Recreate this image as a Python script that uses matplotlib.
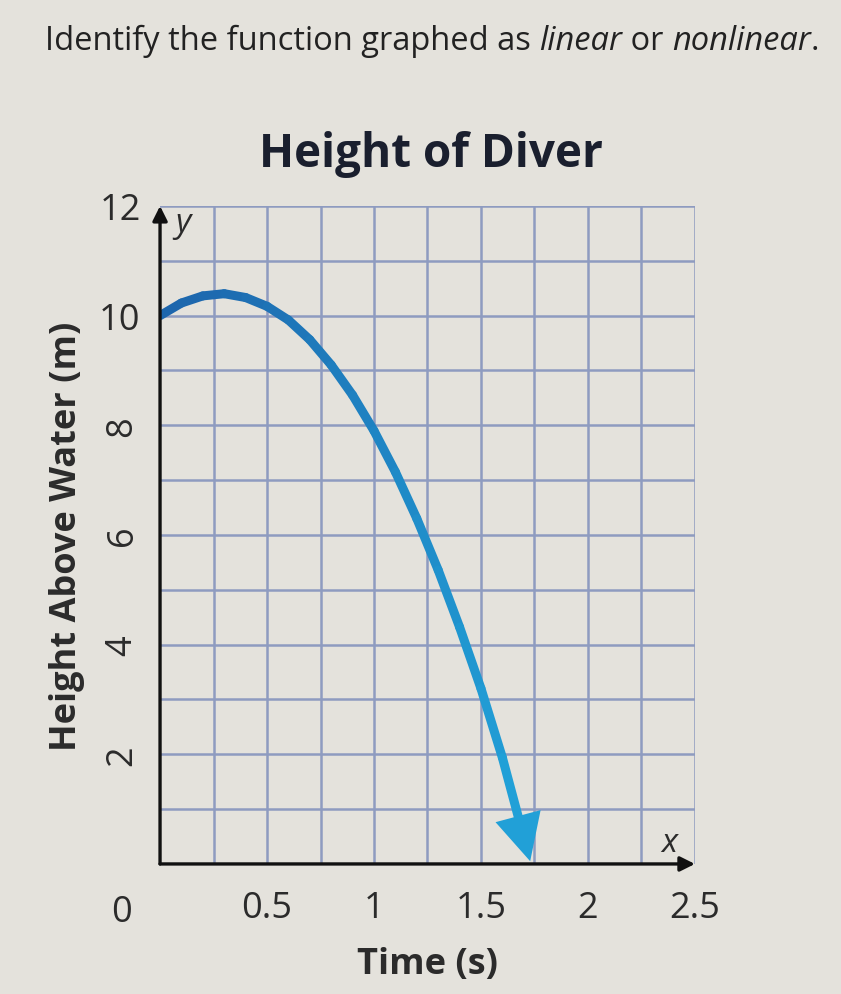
import matplotlib
matplotlib.use("Agg")
import matplotlib.pyplot as plt
import numpy as np
from matplotlib.collections import LineCollection
from matplotlib.colors import to_rgb

# Height of the diver (time in s, height in m)
time_s = [0.0, 0.1, 0.2, 0.3, 0.4, 0.5, 0.6, 0.7, 0.8, 0.9,
          1.0, 1.1, 1.2, 1.3, 1.4, 1.5, 1.6, 1.73]
height_m = [10.0, 10.23, 10.36, 10.40, 10.33, 10.17, 9.92, 9.56, 9.10, 8.55,
            7.90, 7.15, 6.30, 5.36, 4.32, 3.20, 1.94, 0.05]

x_ticks = [0.5, 1, 1.5, 2, 2.5]
x_tick_labels = ["0.5", "1", "1.5", "2", "2.5"]
y_ticks = [2, 4, 6, 8, 10, 12]
y_tick_labels = ["2", "4", "6", "8", "10", "12"]

BG = "#e4e2dc"
GRID = "#8e9bc0"
TEXT = "#2b2b2b"
CURVE_TOP = "#1d66ad"
CURVE_BOT = "#21a0d7"

plt.rcParams["font.family"] = ["Open Sans", "DejaVu Sans"]

fig = plt.figure(figsize=(8.41, 9.95), dpi=100, facecolor=BG)
ax = fig.add_axes([0.1903, 0.1307, 0.636, 0.6613])
ax.set_facecolor(BG)

ax.set_xlim(0, 2.5)
ax.set_ylim(0, 12)

# grid every 0.25 s and every 1 m
for gx in np.arange(0.25, 2.51, 0.25):
    ax.axvline(gx, color=GRID, lw=1.8, zorder=1)
for gy in np.arange(1, 12.1, 1):
    ax.axhline(gy, color=GRID, lw=1.8, zorder=1)
ax.tick_params(which="both", length=0)

ax.set_xticks(x_ticks)
ax.set_xticklabels(x_tick_labels, fontsize=26, color=TEXT)
ax.set_yticks(y_ticks)
ax.set_yticklabels(y_tick_labels, fontsize=26, color=TEXT)
ax.tick_params(axis="x", pad=19)
ax.tick_params(axis="y", pad=14)
for lbl, v in zip(ax.get_yticklabels(), y_ticks):
    if v < 10:
        lbl.set_rotation(90)
        lbl.set_va("center")
ax.text(-0.18, -0.55, "0", fontsize=26, color=TEXT, ha="center", va="top")

for s in ax.spines.values():
    s.set_visible(False)

# axes with arrowheads
arrow_kw = dict(arrowstyle="-|>", color="#111111", lw=2.4, mutation_scale=22,
                shrinkA=0, shrinkB=0)
ax.annotate("", xy=(0, 12), xytext=(0, 0), arrowprops=arrow_kw,
            annotation_clip=False, zorder=4)
ax.annotate("", xy=(2.5, 0), xytext=(0, 0), arrowprops=arrow_kw,
            annotation_clip=False, zorder=4)
ax.text(0.07, 11.7, "y", fontsize=24, style="italic", color=TEXT, va="center")
ax.text(2.38, 0.4, "x", fontsize=24, style="italic", color=TEXT, ha="center", va="center")

# curve, shading from dark blue to cyan; the last segment stops at the arrow base
pts = np.column_stack([time_s, height_m]).astype(float)
base = pts[-2] + 0.62 * (pts[-1] - pts[-2])
line_pts = np.vstack([pts[:-1], base])
segs = np.stack([line_pts[:-1], line_pts[1:]], axis=1)
c0, c1 = np.array(to_rgb(CURVE_TOP)), np.array(to_rgb(CURVE_BOT))
frac = np.linspace(0, 1, len(segs)) ** 1.3
cols = [tuple(c0 + (c1 - c0) * f) for f in frac]
lc = LineCollection(segs, colors=cols, linewidths=6.5, capstyle="round",
                    joinstyle="round", zorder=3)
ax.add_collection(lc)
ax.annotate("", xy=(time_s[-1], height_m[-1]), xytext=(time_s[-2], height_m[-2]),
            arrowprops=dict(arrowstyle="-|>,head_length=1.2,head_width=0.6",
                            color=CURVE_BOT, lw=0, mutation_scale=28,
                            shrinkA=0, shrinkB=0),
            annotation_clip=False, zorder=3)

ax.set_xlabel("Time (s)", fontsize=26, fontweight="bold", color=TEXT, labelpad=14)
ax.set_ylabel("Height Above Water (m)", fontsize=26, fontweight="bold", color=TEXT,
              labelpad=10)

fig.text(0.512, 0.845, "Height of Diver", fontsize=33, fontweight="bold",
         color="#1a1f2e", ha="center", va="center")

# question line with italic words
pieces = [("Identify the function graphed as ", "normal"), ("linear", "italic"),
          (" or ", "normal"), ("nonlinear", "italic"), (".", "normal")]
fig.canvas.draw()
r = fig.canvas.get_renderer()
x = 45 / 841
for txt, st in pieces:
    t = fig.text(x, 0.958, txt, fontsize=23.5, style=st, color="#222222", va="center")
    bb = t.get_window_extent(renderer=r)
    x += bb.width / fig.bbox.width

fig.savefig("out.png", dpi=100, facecolor=BG)
